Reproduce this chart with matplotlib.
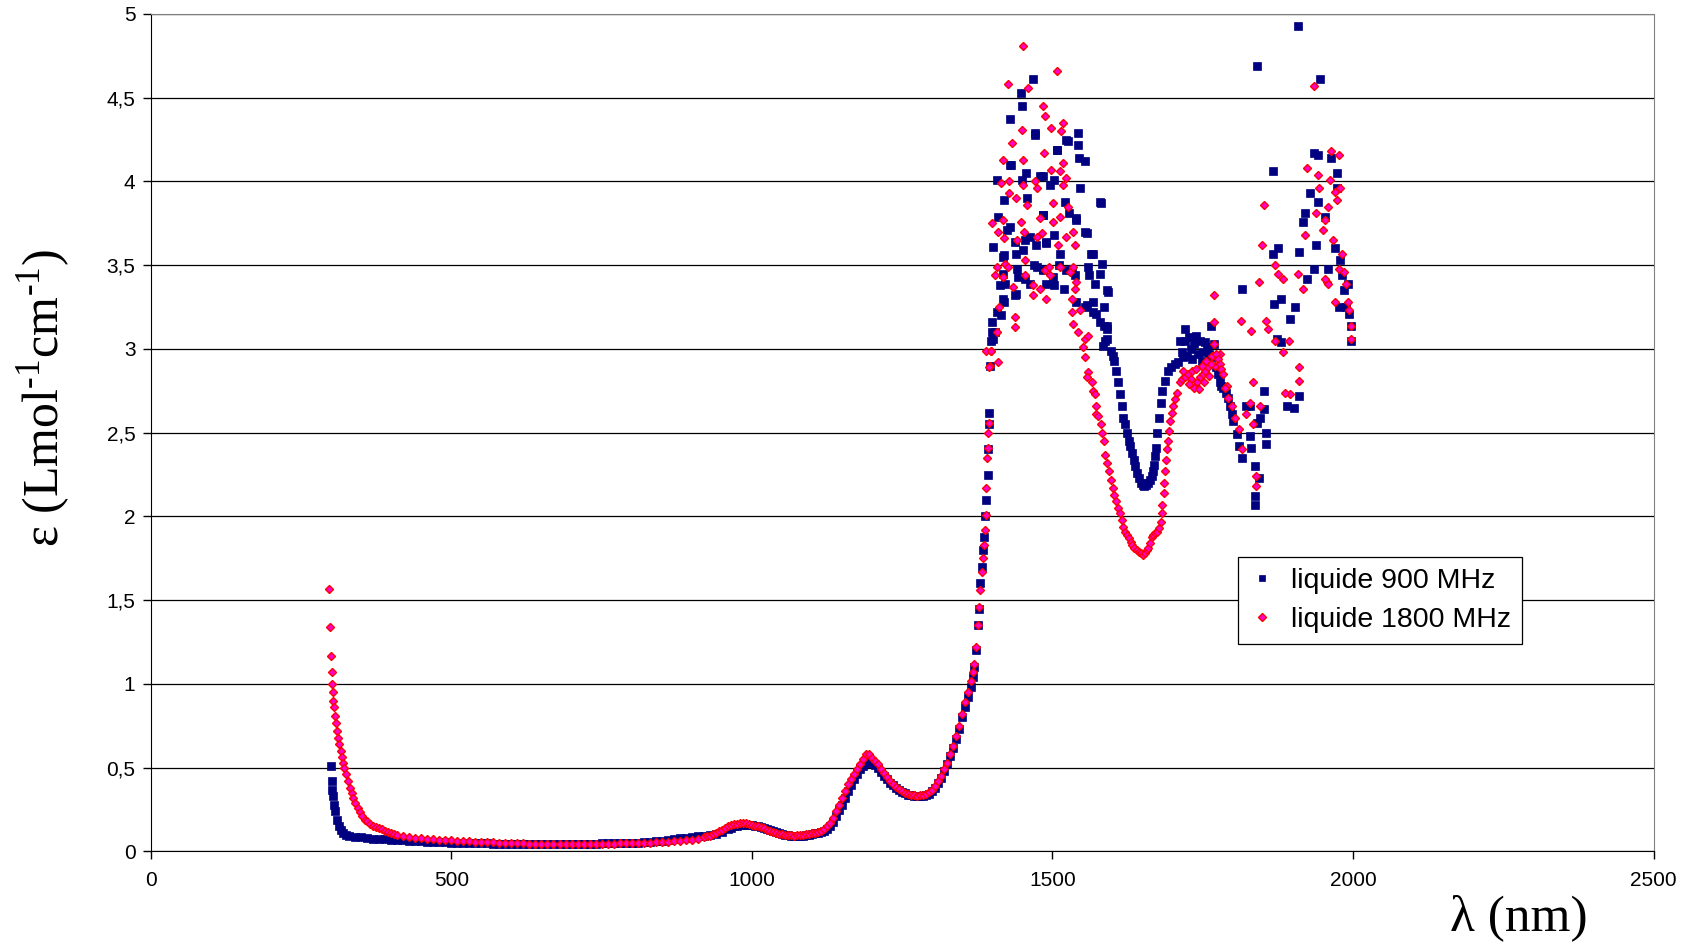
import matplotlib
matplotlib.use("Agg")
import matplotlib.pyplot as plt
import numpy as np
from matplotlib.ticker import FuncFormatter, MultipleLocator

# Absorption spectra, (wavelength nm, epsilon) pairs
# liquide 900 MHz - smooth part of the curve
smooth_900 = [
    (300, 0.51), (301, 0.42), (302, 0.37), (303, 0.33), (305, 0.28), (307, 0.24),
    (310, 0.19), (313, 0.15), (316, 0.13), (320, 0.11), (325, 0.10), (330, 0.095),
    (340, 0.088), (350, 0.084), (360, 0.080), (370, 0.077), (380, 0.075), (390, 0.073),
    (400, 0.071), (410, 0.068), (420, 0.066), (430, 0.064), (440, 0.062), (450, 0.060),
    (460, 0.058), (470, 0.056), (480, 0.055), (490, 0.054), (500, 0.053), (510, 0.052),
    (520, 0.051), (530, 0.050), (540, 0.049), (550, 0.048), (560, 0.048), (570, 0.047),
    (580, 0.047), (590, 0.046), (600, 0.046), (610, 0.046), (620, 0.046), (630, 0.046),
    (640, 0.046), (650, 0.046), (660, 0.046), (670, 0.046), (680, 0.046), (690, 0.046),
    (700, 0.046), (710, 0.046), (720, 0.047), (730, 0.047), (740, 0.047), (750, 0.048),
    (760, 0.048), (770, 0.049), (780, 0.050), (790, 0.051), (800, 0.052), (810, 0.053),
    (820, 0.055), (830, 0.057), (840, 0.060), (850, 0.064), (860, 0.068), (870, 0.073),
    (880, 0.078), (890, 0.083), (900, 0.088), (910, 0.091), (920, 0.095), (930, 0.099),
    (940, 0.105), (950, 0.115), (960, 0.135), (965, 0.143), (970, 0.150), (975, 0.155),
    (980, 0.158), (985, 0.159), (990, 0.160), (995, 0.159), (1000, 0.158), (1005, 0.154),
    (1010, 0.150), (1015, 0.144), (1020, 0.138), (1025, 0.132), (1030, 0.126), (1035, 0.120),
    (1040, 0.115), (1045, 0.110), (1050, 0.105), (1055, 0.101), (1060, 0.097), (1065, 0.095),
    (1070, 0.093), (1075, 0.092), (1080, 0.093), (1085, 0.095), (1090, 0.097), (1095, 0.100),
    (1100, 0.104), (1105, 0.108), (1110, 0.112), (1115, 0.118), (1120, 0.125), (1125, 0.136),
    (1130, 0.150), (1135, 0.175), (1140, 0.21), (1145, 0.245), (1150, 0.28), (1155, 0.32),
    (1160, 0.36), (1165, 0.395), (1170, 0.43), (1175, 0.46), (1180, 0.49), (1185, 0.51),
    (1190, 0.53), (1195, 0.535), (1200, 0.53), (1205, 0.515), (1210, 0.50), (1215, 0.475),
    (1220, 0.45), (1225, 0.43), (1230, 0.41), (1235, 0.395), (1240, 0.38), (1245, 0.367),
    (1250, 0.355), (1255, 0.347), (1260, 0.34), (1265, 0.335), (1270, 0.33), (1275, 0.33),
    (1280, 0.33), (1285, 0.332), (1290, 0.335), (1295, 0.345), (1300, 0.36), (1305, 0.38),
    (1310, 0.41), (1315, 0.44), (1320, 0.48), (1325, 0.52), (1330, 0.57), (1335, 0.62),
    (1340, 0.67), (1345, 0.73), (1350, 0.80), (1355, 0.86), (1360, 0.92), (1365, 0.98),
    (1368, 1.04), (1370, 1.10), (1373, 1.20), (1376, 1.35), (1378, 1.45), (1380, 1.60),
    (1382, 1.70), (1384, 1.80), (1386, 1.88), (1388, 2.00), (1390, 2.10), (1392, 2.25),
    (1393, 2.40), (1394, 2.55), (1395, 2.62), (1396, 2.90), (1398, 3.05), (1400, 3.10),
]

# liquide 900 MHz - scattered part (above 1400 nm)
noisy_900 = [
    (1401, 3.06), (1404, 3.10), (1400, 3.16), (1407, 3.22), (1415, 3.20), (1418, 3.30),
    (1413, 3.38), (1421, 3.39), (1410, 3.79), (1407, 4.01), (1401, 3.61), (1418, 3.55),
    (1429, 3.73), (1440, 3.33), (1429, 4.10), (1447, 4.53), (1449, 4.45), (1468, 4.61),
    (1440, 3.57), (1451, 3.59), (1457, 3.90), (1462, 3.67), (1471, 4.29), (1479, 4.03),
    (1485, 3.80), (1490, 3.63), (1496, 3.98), (1507, 4.19), (1523, 4.25), (1543, 4.29),
    (1543, 4.22), (1554, 4.12), (1546, 3.96), (1579, 3.88), (1540, 3.78), (1557, 3.69),
    (1568, 3.57), (1582, 3.51), (1559, 3.49), (1579, 3.45), (1570, 3.39), (1590, 3.35),
    (1512, 3.57), (1523, 3.47), (1501, 3.43), (1485, 3.47), (1474, 3.49), (1462, 3.39),
    (1443, 3.43), (1418, 3.45), (1540, 3.28), (1557, 3.26), (1568, 3.22), (1579, 3.16),
    (1590, 3.14), (1590, 3.06), (1584, 3.02), (1430, 4.37), (1431, 4.10), (1419, 3.89),
    (1449, 4.01), (1456, 4.05), (1484, 4.03), (1502, 4.01), (1521, 3.88), (1527, 3.81),
    (1540, 3.77), (1555, 3.70), (1425, 3.71), (1454, 3.65), (1472, 3.62), (1490, 3.64),
    (1502, 3.68), (1484, 3.80), (1437, 3.64), (1420, 3.56), (1441, 3.48), (1454, 3.42),
    (1469, 3.50), (1490, 3.39), (1511, 3.50), (1532, 3.48), (1538, 3.44), (1564, 3.57),
    (1561, 3.44), (1520, 3.36), (1419, 3.28), (1437, 3.32), (1484, 3.48), (1502, 3.38),
    (1555, 3.25), (1567, 3.28), (1585, 3.25), (1593, 3.34), (1573, 3.21), (1585, 3.14),
    (1591, 3.12), (1588, 3.05), (1471, 4.28), (1507, 4.19), (1526, 4.24), (1545, 4.14),
    (1580, 3.87), (1597, 2.99), (1600, 2.96), (1603, 2.93), (1606, 2.87), (1609, 2.80),
    (1612, 2.73), (1615, 2.66), (1618, 2.59), (1621, 2.55), (1624, 2.50), (1627, 2.45),
    (1629, 2.42), (1632, 2.38), (1635, 2.34), (1638, 2.30), (1641, 2.26), (1644, 2.23),
    (1647, 2.20), (1650, 2.19), (1653, 2.18), (1656, 2.19), (1659, 2.20), (1662, 2.22),
    (1665, 2.24), (1667, 2.27), (1669, 2.31), (1671, 2.36), (1672, 2.41), (1674, 2.50),
    (1677, 2.59), (1680, 2.68), (1683, 2.75), (1687, 2.81), (1692, 2.87), (1698, 2.89),
    (1704, 2.91), (1709, 2.92), (1712, 3.05), (1718, 2.95), (1721, 3.12), (1721, 3.05),
    (1727, 3.07), (1730, 3.00), (1736, 3.03), (1742, 2.97), (1745, 3.05), (1751, 2.98),
    (1754, 3.04), (1760, 2.97), (1763, 3.14), (1769, 3.03), (1772, 2.89), (1778, 2.80),
    (1715, 2.98), (1724, 2.96), (1733, 2.94), (1739, 3.08), (1748, 2.93), (1757, 3.01),
    (1766, 2.95), (1775, 2.85), (1781, 2.78), (1788, 2.74), (1795, 2.66), (1801, 2.57),
    (1784, 2.77), (1792, 2.71), (1798, 2.61), (1807, 2.49), (1810, 2.42), (1816, 2.35),
    (1822, 2.66), (1828, 2.48), (1828, 2.66), (1831, 2.41), (1837, 2.30), (1843, 2.23),
    (1837, 2.12), (1837, 2.07), (1840, 2.56), (1846, 2.59), (1852, 2.64), (1852, 2.75),
    (1855, 2.50), (1855, 2.43), (1815, 3.36), (1841, 4.69), (1867, 4.06), (1867, 3.57),
    (1876, 3.60), (1868, 3.27), (1880, 3.30), (1873, 3.06), (1881, 3.04), (1890, 2.66),
    (1902, 2.65), (1896, 3.18), (1904, 3.25), (1908, 4.93), (1911, 2.72), (1911, 3.58),
    (1917, 3.76), (1920, 3.81), (1923, 3.42), (1928, 3.93), (1935, 4.17), (1941, 4.16),
    (1945, 4.61), (1941, 3.88), (1938, 3.62), (1935, 3.48), (1953, 3.79), (1959, 3.48),
    (1964, 4.14), (1973, 4.05), (1973, 3.96), (1970, 3.60), (1979, 3.53), (1982, 3.44),
    (1976, 3.25), (1985, 3.35), (1988, 3.25), (1994, 3.21), (1997, 3.14), (1997, 3.05),
    (1991, 3.39),
]

# liquide 1800 MHz - smooth part of the curve
smooth_1800 = [
    (297, 1.57), (299, 1.34), (300, 1.17), (301, 1.07), (302, 1.00), (303, 0.95),
    (304, 0.90), (305, 0.865), (307, 0.81), (308, 0.77), (310, 0.72), (312, 0.68),
    (314, 0.64), (316, 0.60), (318, 0.565), (320, 0.53), (322, 0.50), (325, 0.46),
    (328, 0.42), (331, 0.38), (334, 0.35), (337, 0.32), (340, 0.29), (344, 0.26),
    (348, 0.235), (352, 0.21), (356, 0.19), (360, 0.18), (365, 0.165), (370, 0.155),
    (375, 0.147), (380, 0.14), (385, 0.132), (390, 0.125), (395, 0.117), (400, 0.11),
    (405, 0.105), (410, 0.10), (420, 0.095), (430, 0.088), (440, 0.083), (450, 0.078),
    (460, 0.075), (470, 0.072), (480, 0.070), (490, 0.068), (500, 0.066), (510, 0.064),
    (520, 0.062), (530, 0.060), (540, 0.058), (550, 0.056), (560, 0.055), (570, 0.054),
    (580, 0.053), (590, 0.051), (600, 0.050), (610, 0.049), (620, 0.048), (630, 0.047),
    (640, 0.046), (650, 0.045), (660, 0.045), (670, 0.045), (680, 0.045), (690, 0.045),
    (700, 0.045), (710, 0.045), (720, 0.045), (730, 0.045), (740, 0.046), (750, 0.046),
    (760, 0.047), (770, 0.047), (780, 0.048), (790, 0.049), (800, 0.050), (810, 0.051),
    (820, 0.052), (830, 0.053), (840, 0.055), (850, 0.056), (860, 0.058), (870, 0.060),
    (880, 0.063), (890, 0.066), (900, 0.070), (910, 0.077), (920, 0.085), (925, 0.090),
    (930, 0.095), (935, 0.102), (940, 0.110), (945, 0.120), (950, 0.130), (955, 0.140),
    (960, 0.150), (965, 0.156), (970, 0.162), (975, 0.165), (980, 0.168), (985, 0.168),
    (990, 0.168), (995, 0.164), (1000, 0.160), (1005, 0.155), (1010, 0.150), (1015, 0.144),
    (1020, 0.138), (1025, 0.131), (1030, 0.125), (1035, 0.118), (1040, 0.112), (1045, 0.107),
    (1050, 0.103), (1055, 0.100), (1060, 0.097), (1065, 0.096), (1070, 0.095), (1075, 0.096),
    (1080, 0.097), (1085, 0.099), (1090, 0.102), (1095, 0.105), (1100, 0.108), (1105, 0.112),
    (1110, 0.117), (1115, 0.125), (1120, 0.135), (1125, 0.150), (1130, 0.17), (1135, 0.20),
    (1140, 0.24), (1145, 0.28), (1150, 0.32), (1155, 0.36), (1160, 0.40), (1165, 0.43),
    (1170, 0.46), (1175, 0.49), (1180, 0.52), (1185, 0.55), (1190, 0.58), (1195, 0.58),
    (1200, 0.56), (1205, 0.54), (1210, 0.52), (1215, 0.495), (1220, 0.47), (1225, 0.445),
    (1230, 0.42), (1235, 0.40), (1240, 0.385), (1245, 0.372), (1250, 0.36), (1255, 0.352),
    (1260, 0.345), (1265, 0.34), (1270, 0.335), (1275, 0.334), (1280, 0.335), (1285, 0.34),
    (1290, 0.345), (1295, 0.355), (1300, 0.37), (1305, 0.39), (1310, 0.42), (1315, 0.45),
    (1320, 0.49), (1325, 0.53), (1330, 0.58), (1335, 0.63), (1340, 0.69), (1345, 0.75),
    (1350, 0.82), (1355, 0.89), (1360, 0.95), (1365, 1.02), (1368, 1.07), (1370, 1.12),
    (1373, 1.22), (1376, 1.35), (1378, 1.46), (1380, 1.56), (1382, 1.67), (1384, 1.75),
    (1386, 1.83), (1388, 1.92), (1389, 2.01), (1390, 2.17), (1391, 2.35), (1392, 2.41),
    (1393, 2.50), (1394, 2.56), (1396, 2.90), (1398, 2.99),
]

# liquide 1800 MHz - scattered part (above 1390 nm)
noisy_1800 = [
    (1390, 2.99), (1397, 2.99), (1395, 2.89), (1410, 2.92), (1407, 3.10), (1437, 3.19),
    (1437, 3.13), (1411, 3.25), (1404, 3.44), (1407, 3.49), (1418, 3.43), (1421, 3.51),
    (1435, 3.37), (1426, 3.49), (1400, 3.75), (1417, 3.77), (1419, 3.66), (1409, 3.70),
    (1415, 3.99), (1428, 4.00), (1428, 3.93), (1440, 3.90), (1417, 4.13), (1432, 4.23),
    (1426, 4.58), (1451, 4.81), (1460, 4.56), (1449, 4.31), (1451, 4.13), (1451, 3.98),
    (1457, 3.86), (1447, 3.76), (1452, 3.70), (1441, 3.65), (1454, 3.53), (1454, 3.44),
    (1468, 3.38), (1468, 3.32), (1479, 3.36), (1490, 3.30), (1487, 3.47), (1495, 3.49),
    (1474, 3.67), (1471, 4.00), (1474, 3.96), (1485, 4.45), (1487, 4.39), (1507, 4.66),
    (1497, 4.32), (1486, 4.17), (1479, 3.78), (1482, 3.69), (1501, 3.87), (1498, 4.07),
    (1512, 4.06), (1518, 4.11), (1523, 4.02), (1518, 3.98), (1518, 4.35), (1515, 4.30),
    (1526, 3.85), (1501, 3.76), (1512, 3.79), (1510, 3.62), (1523, 3.67), (1537, 3.62),
    (1534, 3.70), (1512, 3.49), (1496, 3.44), (1529, 3.46), (1534, 3.49), (1540, 3.40),
    (1537, 3.36), (1532, 3.30), (1532, 3.22), (1546, 3.23), (1534, 3.15), (1543, 3.10),
    (1554, 3.06), (1551, 3.01), (1559, 3.08), (1554, 2.95), (1559, 2.86), (1557, 2.83),
    (1565, 2.80), (1568, 2.75), (1570, 2.73), (1573, 2.66), (1573, 2.61), (1576, 2.60),
    (1580, 2.55), (1582, 2.50), (1585, 2.45), (1588, 2.37), (1591, 2.32), (1594, 2.27),
    (1597, 2.22), (1600, 2.17), (1603, 2.13), (1606, 2.09), (1609, 2.05), (1612, 2.02),
    (1615, 1.98), (1618, 1.94), (1621, 1.91), (1624, 1.89), (1627, 1.87), (1630, 1.85),
    (1633, 1.83), (1636, 1.81), (1640, 1.80), (1644, 1.79), (1648, 1.78), (1651, 1.77),
    (1654, 1.78), (1657, 1.80), (1659, 1.81), (1662, 1.84), (1665, 1.88), (1668, 1.89),
    (1671, 1.90), (1674, 1.91), (1677, 1.93), (1680, 1.97), (1682, 2.02), (1683, 2.07),
    (1685, 2.14), (1686, 2.20), (1688, 2.27), (1689, 2.34), (1691, 2.40), (1692, 2.45),
    (1694, 2.51), (1696, 2.57), (1699, 2.62), (1701, 2.66), (1704, 2.70), (1707, 2.74),
    (1712, 2.80), (1716, 2.82), (1721, 2.83), (1725, 2.85), (1730, 2.82), (1733, 2.87),
    (1736, 2.77), (1740, 2.80), (1745, 2.83), (1750, 2.85), (1754, 2.87), (1758, 2.89),
    (1718, 2.87), (1727, 2.79), (1738, 2.88), (1743, 2.76), (1748, 2.90), (1752, 2.80),
    (1756, 2.93), (1761, 2.84), (1765, 2.96), (1770, 2.90), (1778, 2.97), (1790, 2.78),
    (1763, 2.91), (1768, 3.03), (1768, 3.16), (1768, 3.32), (1772, 2.97), (1775, 2.94),
    (1778, 2.91), (1781, 2.88), (1784, 2.85), (1787, 2.77), (1792, 2.71), (1798, 2.66),
    (1804, 2.59), (1810, 2.52), (1822, 2.61), (1828, 2.68), (1834, 2.55), (1816, 2.40),
    (1838, 2.24), (1839, 2.18), (1814, 3.17), (1831, 3.11), (1849, 3.62), (1852, 3.86),
    (1843, 3.40), (1855, 3.17), (1858, 3.12), (1846, 2.66), (1834, 2.80), (1870, 3.50),
    (1876, 3.45), (1884, 3.42), (1870, 3.05), (1884, 2.98), (1896, 2.73), (1887, 2.74),
    (1893, 3.05), (1908, 3.45), (1911, 2.89), (1911, 2.81), (1923, 4.08), (1920, 3.68),
    (1917, 3.36), (1935, 4.57), (1938, 3.81), (1941, 4.04), (1944, 3.96), (1950, 3.71),
    (1953, 3.77), (1959, 3.85), (1962, 4.01), (1964, 4.18), (1976, 4.16), (1979, 3.96),
    (1967, 3.65), (1956, 3.40), (1959, 3.39), (1970, 3.28), (1982, 3.57), (1985, 3.46),
    (1988, 3.39), (1991, 3.28), (1994, 3.23), (1997, 3.14), (1997, 3.06), (1970, 3.94),
    (1973, 3.89), (1953, 3.42), (1976, 3.48),
]

series_labels = ["liquide 900 MHz", "liquide 1800 MHz"]

wl_900, eps_900 = np.array(smooth_900 + noisy_900).T
wl_1800, eps_1800 = np.array(smooth_1800 + noisy_1800).T

plt.rcParams["font.family"] = ["Liberation Sans", "DejaVu Sans"]
plt.rcParams["mathtext.fontset"] = "custom"
plt.rcParams["mathtext.rm"] = "Liberation Serif"

fig = plt.figure(figsize=(16.88, 9.44), dpi=100)
ax = fig.add_axes([0.0893, 0.098, 0.8903, 0.8872])

# Series (blue below, red on top)
ax.plot(wl_900, eps_900, "s", ms=5.3, color="#000080", mec="#000080",
        mew=0.5, label=series_labels[0], zorder=3)
ax.plot(wl_1800, eps_1800, "D", ms=4.4, mfc="#FF00CC", mec="#FF0000",
        mew=1.0, label=series_labels[1], zorder=4)

# Axes
ax.set_xlim(0, 2500)
ax.set_ylim(0, 5)
ax.xaxis.set_major_locator(MultipleLocator(500))
ax.yaxis.set_major_locator(MultipleLocator(0.5))
ax.yaxis.set_major_formatter(FuncFormatter(lambda v, p: f"{v:g}".replace(".", ",")))
ax.grid(axis="y", color="black", linewidth=0.9, zorder=1)
ax.set_axisbelow(True)
ax.tick_params(axis="both", direction="out", labelsize=15, length=6, width=1,
               color="black")
ax.tick_params(axis="x", pad=8)
ax.tick_params(axis="y", pad=5)
for side in ["top", "right"]:
    ax.spines[side].set_color("#808080")
for side in ["left", "bottom"]:
    ax.spines[side].set_color("black")

# Axis labels (superscripts use a plain hyphen, as in the original)
fig.text(0.026, 0.578, "ε (Lmol$^{\\mathrm{\u20101}}$cm$^{\\mathrm{\u20101}}$)",
         rotation=90, ha="center", va="center", fontsize=36,
         family="Liberation Serif")
fig.text(0.9, 0.028, "λ (nm)", ha="center", va="center", fontsize=37,
         family="Liberation Serif")

# Legend
leg = ax.legend(loc="upper left", bbox_to_anchor=(0.7235, 0.352), fontsize=20.5,
                frameon=True, fancybox=False, edgecolor="black", framealpha=1,
                handlelength=0.9, handletextpad=0.55, borderpad=0.4,
                labelspacing=0.45, borderaxespad=0, markerscale=0.85)
leg.get_frame().set_linewidth(0.9)

fig.savefig("out.png", dpi=100, facecolor="white")
